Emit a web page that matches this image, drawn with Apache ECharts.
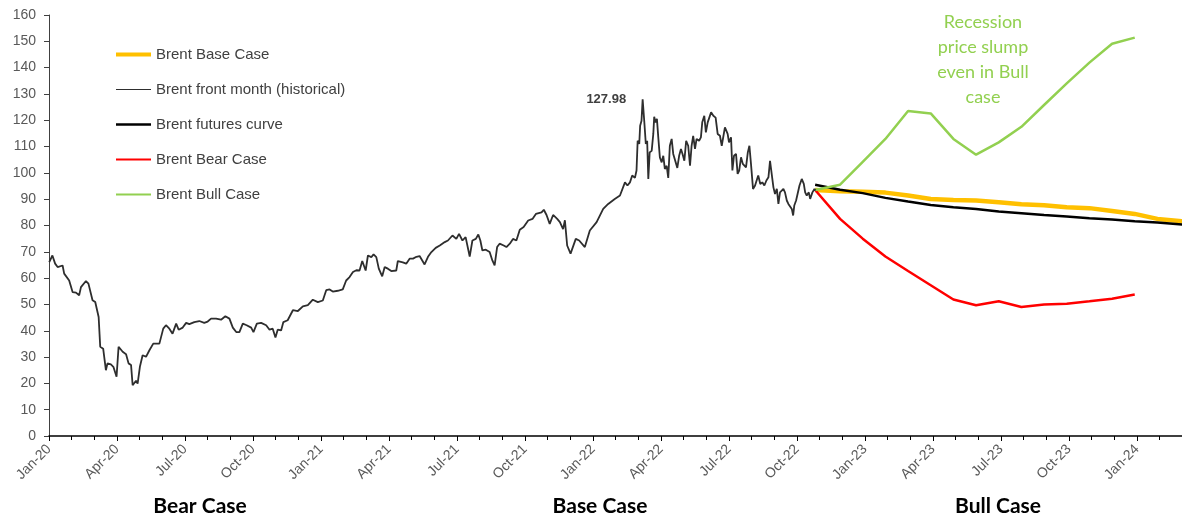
<!DOCTYPE html>
<html>
<head>
<meta charset="utf-8">
<script src="https://cdn.jsdelivr.net/npm/echarts@6/dist/echarts.min.js"></script>
<style>
html,body{margin:0;padding:0;background:#fff;overflow:hidden;}
#chart{width:1182px;height:517px;}
</style>
</head>
<body>
<div id="chart"></div>
<script>
// x values are months since 1 Jan 2020
const tickLabels = ['Jan-20','Apr-20','Jul-20','Oct-20','Jan-21','Apr-21','Jul-21','Oct-21','Jan-22','Apr-22','Jul-22','Oct-22','Jan-23','Apr-23','Jul-23','Oct-23','Jan-24'];

const histMonths = [
  0.01,0.15,0.27,0.38,0.60,0.67,0.89,1.04,1.19,1.33,1.41,1.63,1.74,1.92,2.04,2.19,2.26,2.39,2.51,2.58,2.73,2.84,2.98,3.07,3.25,3.40,3.51,3.62,3.69,3.84,3.91,4.01,4.13,4.28,4.43,4.60,4.87,5.04,5.16,
  5.31,5.45,5.61,5.72,5.90,6.05,6.19,6.41,6.63,6.85,7.00,7.15,7.37,7.59,7.78,7.96,8.11,8.26,8.40,8.55,8.72,8.92,9.02,9.17,9.36,9.58,9.73,9.87,9.99,10.09,
  10.24,10.34,10.53,10.76,10.98,11.20,11.42,11.64,11.86,12.08,12.23,12.38,12.52,12.74,12.96,13.11,13.26,13.41,13.56,13.70,13.82,13.97,14.07,14.22,14.32,14.44,14.55,14.70,14.81,14.95,
  15.10,15.32,15.39,15.61,15.76,15.91,16.06,16.21,16.35,16.57,16.72,16.87,17.06,17.24,17.46,17.60,17.80,17.97,18.09,18.24,18.38,18.56,18.68,18.83,18.94,19.03,19.12,19.27,19.44,19.56,
  19.66,19.77,19.88,20.06,20.18,20.33,20.47,20.62,20.77,20.94,21.14,21.33,21.48,21.73,21.83,21.95,22.09,22.24,22.42,22.54,22.68,22.76,22.86,23.01,23.24,23.39,
  23.64,23.86,24.16,24.45,24.67,24.96,25.19,
  25.41,25.52,25.63,25.73,25.85,25.92,25.97,26.04,26.08,26.14,
  26.19,26.26,26.33,26.39,26.44,26.50,26.59,26.66,26.70,26.76,
  26.82,26.88,26.95,27.03,27.10,27.17,27.25,27.32,27.39,27.47,
  27.54,27.62,27.72,27.80,27.88,27.95,28.03,28.11,28.20,28.28,
  28.35,28.42,28.50,28.57,28.68,28.76,28.82,28.91,28.98,29.06,
  29.13,29.21,29.31,29.41,29.50,29.60,29.68,
  29.82,29.94,30.00,30.09,30.15,30.22,30.31,30.38,30.45,30.53,
  30.61,30.68,30.75,30.83,30.90,30.97,31.06,31.15,31.24,31.29,
  31.38,31.47,31.56,31.65,31.74,31.81,31.89,31.96,32.03,32.11,
  32.18,32.25,32.33,32.40,32.47,32.55,32.62,32.69,32.77,32.83,
  32.88,32.96,33.03,33.11,33.21,33.30,33.36,33.43,33.52,33.58,
  33.68,33.77,33.82
];
const histPrices = [
  66.1,68.6,65.5,64.2,64.8,61.7,59.1,54.7,54.5,53.5,56.6,58.9,57.9,51.6,50.9,45.2,33.9,33.2,25.0,27.6,27.2,26.3,22.5,33.9,32.0,31.1,27.6,27.0,19.3,21.0,19.9,26.3,30.7,30.1,32.6,35.1,35.1,40.8,42.1,
  40.8,38.9,42.7,40.4,41.2,43.0,42.5,43.3,43.7,43.0,43.5,44.6,44.6,44.2,45.5,44.6,41.2,39.5,39.5,42.7,42.1,41.2,39.5,42.7,43.0,42.1,40.4,40.8,37.4,40.4,
  40.1,43.3,44.0,47.8,47.5,49.3,49.7,51.8,50.9,51.5,55.4,55.7,54.9,55.2,55.7,59.1,60.4,62.3,63.0,62.9,66.5,62.9,68.6,68.0,69.0,68.0,63.6,60.7,64.2,63.6,
  62.7,62.9,66.5,66.0,65.5,67.4,67.4,68.1,68.4,65.2,68.1,69.9,71.5,72.4,73.7,74.3,76.2,74.9,76.8,74.3,75.6,68.2,74.3,74.9,76.6,74.3,70.5,70.8,69.9,66.7,
  64.8,71.8,73.1,72.4,71.8,73.1,74.9,74.3,78.4,79.4,81.9,82.5,84.4,85.0,86.0,84.0,80.6,84.0,82.5,81.3,78.6,82.0,72.4,69.3,74.9,74.3,
  71.8,78.1,81.3,86.3,88.2,90.1,91.4,
  96.4,95.2,96.4,99.0,98.1,100.9,112.2,111.0,117.9,119.8,
  127.98,119.8,111.0,112.2,97.7,107.8,108.4,114.8,121.3,119.2,
  120.5,113.5,105.9,104.0,106.5,101.5,102.7,98.1,110.3,112.9,
  107.2,106.5,101.9,106.5,109.1,107.2,104.6,112.2,110.3,102.7,
  110.3,114.1,109.1,112.9,112.2,113.5,119.2,121.7,115.4,119.2,
  118.5,123.0,121.7,121.0,114.8,114.1,110.3,
  117.3,114.8,111.6,113.5,100.9,106.5,107.2,99.6,100.9,105.9,
  103.4,104.0,102.1,107.8,110.3,103.4,93.9,95.2,97.7,99.0,
  95.8,96.4,95.2,97.1,98.3,104.6,104.0,94.5,92.0,93.9,
  88.2,92.6,92.0,93.9,92.6,89.5,88.2,87.6,86.3,83.8,
  87.6,89.5,89.5,95.2,97.7,95.8,92.6,91.4,92.6,90.1,
  92.6,93.9,93.3
];

const forecastMonths = [33.8,34.9,35.9,36.9,37.9,38.9,39.9,40.9,41.9,42.9,43.9,44.9,45.9,46.9,47.9,48.9,50.0];
const baseCase = [93.5,93.0,92.8,92.5,91.4,90.1,89.7,89.5,88.8,88.1,87.7,86.9,86.6,85.5,84.4,82.5,81.6];
const futuresCurve = [95.5,93.6,92.3,90.5,89.1,87.8,86.9,86.3,85.3,84.7,84.0,83.4,82.8,82.3,81.6,81.1,80.4];
const bearCase = [93.5,82.5,75.0,68.2,62.7,57.3,51.9,49.7,51.2,49.0,50.0,50.3,51.2,52.2,53.8];
const bullCase = [93.5,95.5,104.2,112.9,123.5,122.6,112.9,106.9,111.6,117.5,125.8,134.0,141.9,149.1,151.4];

function pairs(xs, ys) { return ys.map((y, i) => [xs[i], y]); }

const FONT = '"Liberation Sans", Arial, sans-serif';
const chart = echarts.init(document.getElementById('chart'), null, {renderer: 'canvas'});

chart.setOption({
  animation: false,
  backgroundColor: '#ffffff',
  grid: {left: 49, top: 15, width: 1156, height: 421, containLabel: false, outerBoundsMode: 'none'},
  legend: {
    orient: 'vertical', left: 114, top: 47, padding: 0,
    itemWidth: 35, itemHeight: 14, itemGap: 20,
    itemStyle: {opacity: 0, borderWidth: 0},
    textStyle: {fontFamily: FONT, fontSize: 15, color: '#404040'},
    data: [
      {name: 'Brent Base Case', lineStyle: {width: 4}},
      {name: 'Brent front month (historical)', lineStyle: {width: 1.2}},
      {name: 'Brent futures curve', lineStyle: {width: 2.5}},
      {name: 'Brent Bear Case', lineStyle: {width: 2}},
      {name: 'Brent Bull Case', lineStyle: {width: 2}}
    ]
  },
  xAxis: {
    type: 'value', min: 0, max: 51, interval: 3,
    axisLine: {show: true, lineStyle: {color: '#000000', width: 1.5}},
    axisTick: {show: true, length: 5, lineStyle: {color: '#000000'}},
    minorTick: {show: true, splitNumber: 3, length: 4, lineStyle: {color: '#000000'}},
    splitLine: {show: false},
    minorSplitLine: {show: false},
    axisLabel: {
      rotate: 45, margin: 11, fontFamily: FONT, fontSize: 14, color: '#595959',
      formatter: v => (v % 3 === 0 && tickLabels[v / 3]) ? tickLabels[v / 3] : ''
    }
  },
  yAxis: {
    type: 'value', min: 0, max: 160, interval: 10,
    axisLine: {show: true, lineStyle: {color: '#404040', width: 1}},
    axisTick: {show: true, length: 5, lineStyle: {color: '#404040'}},
    splitLine: {show: false},
    axisLabel: {margin: 13, fontFamily: FONT, fontSize: 14, color: '#595959'}
  },
  graphic: [
    {type: 'text', x: 983, y: 10, style: {text: 'Recession\nprice slump\neven in Bull\ncase', fill: '#92D050', font: '18px Lato, "Open Sans", sans-serif', align: 'center', verticalAlign: 'top', lineHeight: 25}},
    {type: 'text', x: 200, y: 506, style: {text: 'Bear Case', fill: '#000000', font: 'bold 21px Lato, "Open Sans", sans-serif', align: 'center', verticalAlign: 'middle'}},
    {type: 'text', x: 600, y: 506, style: {text: 'Base Case', fill: '#000000', font: 'bold 21px Lato, "Open Sans", sans-serif', align: 'center', verticalAlign: 'middle'}},
    {type: 'text', x: 998, y: 506, style: {text: 'Bull Case', fill: '#000000', font: 'bold 21px Lato, "Open Sans", sans-serif', align: 'center', verticalAlign: 'middle'}}
  ],
  series: [
    {
      name: 'Brent Base Case', type: 'line', data: pairs(forecastMonths, baseCase),
      symbol: 'none', showSymbol: false, z: 3,
      lineStyle: {color: '#FFC000', width: 4.5}, itemStyle: {color: '#FFC000'}
    },
    {
      name: 'Brent front month (historical)', type: 'line', data: pairs(histMonths, histPrices),
      symbol: 'none', showSymbol: false, z: 5,
      lineStyle: {color: '#2e2e2e', width: 1.8}, itemStyle: {color: '#2e2e2e'},
      markPoint: {
        symbol: 'circle', symbolSize: 1, itemStyle: {color: 'rgba(0,0,0,0)'},
        label: {show: true, position: 'left', distance: 16, formatter: p => p.value.toFixed(2), fontFamily: FONT, fontSize: 13, fontWeight: 'bold', color: '#404040'},
        data: [{type: 'max', name: 'peak'}]
      }
    },
    {
      name: 'Brent futures curve', type: 'line', data: pairs(forecastMonths, futuresCurve),
      symbol: 'none', showSymbol: false, z: 4,
      lineStyle: {color: '#000000', width: 2.5}, itemStyle: {color: '#000000'}
    },
    {
      name: 'Brent Bear Case', type: 'line', data: pairs(forecastMonths, bearCase),
      symbol: 'none', showSymbol: false, z: 4,
      lineStyle: {color: '#FF0000', width: 2.5}, itemStyle: {color: '#FF0000'}
    },
    {
      name: 'Brent Bull Case', type: 'line', data: pairs(forecastMonths, bullCase),
      symbol: 'none', showSymbol: false, z: 4,
      lineStyle: {color: '#92D050', width: 2.5}, itemStyle: {color: '#92D050'}
    }
  ]
});
</script>
</body>
</html>
